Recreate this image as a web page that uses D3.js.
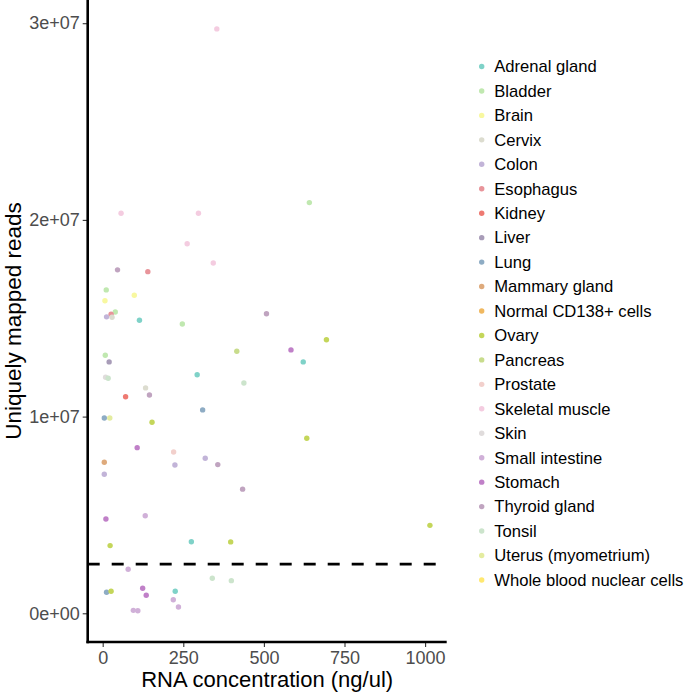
<!DOCTYPE html>
<html>
<head>
<meta charset="utf-8">
<script src="https://cdn.jsdelivr.net/npm/d3@7"></script>
<style>
  html, body { margin: 0; padding: 0; background: #fff; }
  text { font-family: "Liberation Sans", Arial, Helvetica, sans-serif; }
</style>
</head>
<body>
<svg id="chart" width="685" height="694"></svg>
<script>
const categories = ["Adrenal gland","Bladder","Brain","Cervix","Colon","Esophagus","Kidney","Liver","Lung","Mammary gland","Normal CD138+ cells","Ovary","Pancreas","Prostate","Skeletal muscle","Skin","Small intestine","Stomach","Thyroid gland","Tonsil","Uterus (myometrium)","Whole blood nuclear cells"];
const categoryColors = ["#7fd2c8","#c0e8b0","#f8f8a0","#dcdccf","#c2b4d8","#e8949a","#ee7a72","#a89cb8","#8eacc4","#deaa7c","#f0b860","#c4d65a","#c8dc8c","#f2d0cc","#f4cce0","#e0dcdc","#d0b0d8","#c080c8","#c0a4c0","#cce4cc","#e4eca0","#ffe870"];

const pointTissue = [
  "Skeletal muscle","Skeletal muscle","Skeletal muscle","Skeletal muscle","Skeletal muscle",
  "Thyroid gland","Esophagus","Bladder","Brain","Brain","Bladder","Esophagus","Colon","Cervix",
  "Adrenal gland","Bladder","Thyroid gland","Bladder","Liver","Pancreas","Skin","Tonsil",
  "Adrenal gland","Tonsil","Cervix","Thyroid gland","Kidney","Lung","Lung","Uterus (myometrium)",
  "Ovary","Stomach","Prostate","Mammary gland","Colon","Colon","Thyroid gland","Colon",
  "Thyroid gland","Stomach","Small intestine","Ovary","Adrenal gland","Ovary","Small intestine",
  "Tonsil","Tonsil","Lung","Ovary","Stomach","Stomach","Adrenal gland","Small intestine",
  "Small intestine","Small intestine","Small intestine","Stomach","Ovary","Adrenal gland",
  "Ovary","Ovary","Bladder"
];
const pointConc = [
  354, 57, 297, 262, 343,
  46, 140, 11, 7, 98, 39, 26, 12, 29,
  114, 247, 508, 8, 20, 416, 9, 17,
  293, 438, 133, 145, 71, 310, 5, 22,
  153, 107, 220, 5, 224, 318, 357, 5,
  434, 10, 132, 23, 275, 397, 79,
  340, 399, 12, 26, 124, 135, 225, 219,
  235, 95, 109, 584, 694, 622,
  633, 1015, 641
];
const pointReads = [
  29710000, 20340000, 20340000, 18790000, 17810000,
  17460000, 17370000, 16440000, 15890000, 16170000, 15320000, 15200000, 15070000, 15050000,
  14900000, 14710000, 15230000, 13120000, 12780000, 13320000, 12000000, 11950000,
  12130000, 11710000, 11460000, 11100000, 11010000, 10340000, 9930000, 9930000,
  9710000, 8420000, 8200000, 7680000, 7540000, 7880000, 7560000, 7070000,
  6310000, 4790000, 4960000, 3440000, 3640000, 3630000, 2240000,
  1780000, 1660000, 1070000, 1120000, 1270000, 920000, 1120000, 690000,
  320000, 150000, 130000, 13390000, 13910000, 12780000,
  8900000, 4470000, 20880000
];
const xTicks = [0, 250, 500, 750, 1000];
const xTickLabels = ["0", "250", "500", "750", "1000"];
const yTicks = [0, 10000000, 20000000, 30000000];
const yTickLabels = ["0e+00", "1e+07", "2e+07", "3e+07"];
const threshold = 2500000;

const svg = d3.select("#chart");
const panel = { left: 87.7, right: 446.7, top: 0, bottom: 642 };

const x = d3.scaleLinear().domain([-46.5, 1067]).range([panel.left, panel.right]);
const y = d3.scaleLinear().domain([-1460000, 31180000]).range([panel.bottom, panel.top]);
const color = d3.scaleOrdinal().domain(categories).range(categoryColors);

// threshold dashed line
svg.append("line")
  .attr("x1", panel.left).attr("x2", panel.right)
  .attr("y1", y(threshold)).attr("y2", y(threshold))
  .attr("stroke", "#000").attr("stroke-width", 2.6)
  .attr("stroke-dasharray", "12,12");

// points
const pts = pointConc.map((c, i) => ({ conc: c, reads: pointReads[i], tissue: pointTissue[i] }));
svg.append("g").selectAll("circle").data(pts).join("circle")
  .attr("cx", d => x(d.conc))
  .attr("cy", d => y(d.reads))
  .attr("r", 2.7)
  .attr("fill", d => color(d.tissue));

// axes
const xAxis = d3.axisBottom(x).tickValues(xTicks).tickFormat((d, i) => xTickLabels[i]).tickSize(5).tickPadding(4);
const gx = svg.append("g").attr("transform", `translate(0,${panel.bottom})`).call(xAxis);
gx.select(".domain").remove();
gx.selectAll(".tick line").attr("stroke", "#333").attr("stroke-width", 1.1);
gx.selectAll(".tick text").attr("font-size", 18).attr("fill", "#4d4d4d")
  .attr("font-family", "Liberation Sans, Arial, sans-serif");

const yAxis = d3.axisLeft(y).tickValues(yTicks).tickFormat((d, i) => yTickLabels[i]).tickSize(5).tickPadding(3);
const gy = svg.append("g").attr("transform", `translate(${panel.left},0)`).call(yAxis);
gy.select(".domain").remove();
gy.selectAll(".tick line").attr("stroke", "#333").attr("stroke-width", 1.1);
gy.selectAll(".tick text").attr("font-size", 18).attr("fill", "#4d4d4d")
  .attr("font-family", "Liberation Sans, Arial, sans-serif");

// axis lines
svg.append("line").attr("x1", panel.left).attr("x2", panel.left)
  .attr("y1", panel.top).attr("y2", panel.bottom + 1.3)
  .attr("stroke", "#000").attr("stroke-width", 2.6);
svg.append("line").attr("x1", panel.left - 1.3).attr("x2", panel.right)
  .attr("y1", panel.bottom).attr("y2", panel.bottom)
  .attr("stroke", "#000").attr("stroke-width", 2.6);

// axis titles
svg.append("text")
  .attr("x", (panel.left + panel.right) / 2).attr("y", 687)
  .attr("text-anchor", "middle").attr("font-size", 22).attr("fill", "#000")
  .text("RNA concentration (ng/ul)");
svg.append("text")
  .attr("transform", `translate(20.5,${(panel.top + panel.bottom) / 2}) rotate(-90)`)
  .attr("text-anchor", "middle").attr("font-size", 22.5).attr("fill", "#000")
  .text("Uniquely mapped reads");

// legend
const legend = svg.append("g");
const rowH = 24.45;
const items = legend.selectAll("g").data(categories).join("g")
  .attr("transform", (d, i) => `translate(481.7,${66.5 + i * rowH})`);
items.append("circle").attr("r", 2.7).attr("fill", d => color(d));
items.append("text").attr("x", 12.6).attr("dy", "0.35em")
  .attr("font-size", 16.6).attr("fill", "#000").text(d => d);
</script>
</body>
</html>
